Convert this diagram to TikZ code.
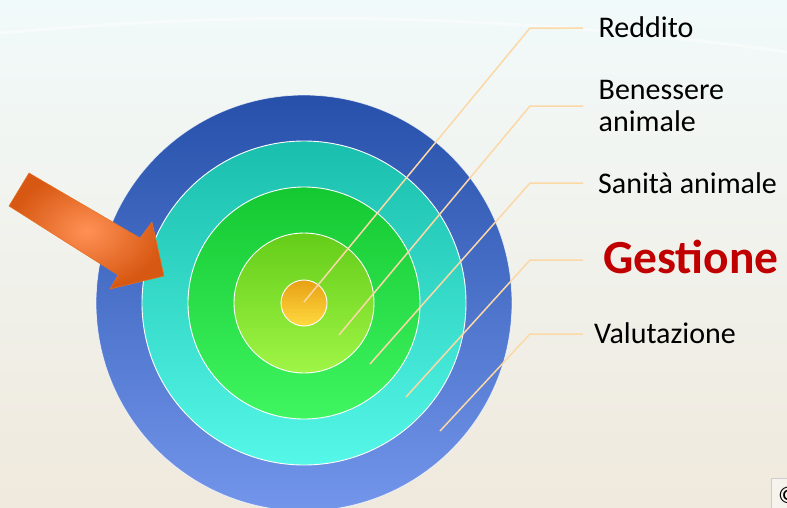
\documentclass[tikz,border=0pt]{standalone}
\usepackage{fontspec}
\setmainfont{Carlito}
\begin{document}
\begin{tikzpicture}[x=1pt,y=-1pt,
  lbl/.style={font=\fontsize{30}{32}\selectfont, inner sep=0pt, text=black},
  leader/.style={draw={rgb,255:red,252;green,216;blue,166}, line width=1.5pt},
  ringborder/.style={draw=white, line width=0.9pt}]
\useasboundingbox (0,0) rectangle (787,507);
\clip (0,0) rectangle (787,507);
% background
\shade[top color={rgb,255:red,241;green,250;blue,250}, bottom color={rgb,255:red,240;green,233;blue,221}] (0,0) rectangle (787,507);
\draw[white, opacity=0.45, line width=3pt] (0,33) .. controls (250,10) and (500,12) .. (787,52);

% concentric circles
\coordinate (C) at (304,303);
\shade[top color={rgb,255:red,38;green,80;blue,170}, bottom color={rgb,255:red,115;green,150;blue,235}] (C) circle (208);
\draw[white, opacity=0.7, line width=0.8pt] (C) circle (208);
\shade[top color={rgb,255:red,26;green,190;blue,172}, bottom color={rgb,255:red,85;green,248;blue,232}] (C) circle (162);
\draw[ringborder] (C) circle (162);
\shade[top color={rgb,255:red,20;green,200;blue,50}, bottom color={rgb,255:red,64;green,246;blue,96}] (C) circle (116);
\draw[ringborder] (C) circle (116);
\shade[top color={rgb,255:red,100;green,205;blue,25}, bottom color={rgb,255:red,160;green,245;blue,70}] (C) circle (70);
\draw[ringborder] (C) circle (70);
\shade[top color={rgb,255:red,232;green,160;blue,20}, bottom color={rgb,255:red,255;green,218;blue,64}] (C) circle (23);
\draw[ringborder] (C) circle (23);

% leader start points
\coordinate (p1) at (304,302);
\coordinate (p2) at (339,335);
\coordinate (p3) at (370,364);
\coordinate (p4) at (406,397);
\coordinate (p5) at (440,431);
% leader ends
\coordinate (e1) at (583,28);
\coordinate (e2) at (583,106);
\coordinate (e3) at (583,183);
\coordinate (e4) at (583,260);
\coordinate (e5) at (583,334);

\draw[leader] (p1) -- (530,28) -- (e1);
\draw[leader] (p2) -- (530,106) -- (e2);
\draw[leader] (p3) -- (530,183) -- (e3);
\draw[leader] (p4) -- (530,260) -- (e4);
\draw[leader] (p5) -- (530,334) -- (e5);

% labels
\node[lbl, anchor=base west] (reddito) at (598.5,37) {Reddito};
\node[lbl, anchor=west, align=left] (benessere) at (598.5,106) {Benessere\\animale};
\node[lbl, anchor=base west] (sanita) at (598,193) {Sanità animale};
\node[lbl, anchor=base west, font=\fontsize{47.5}{50}\selectfont\bfseries, text={rgb,255:red,192;green,0;blue,0}] (gestione) at (603,273) {Gestione};
\node[lbl, anchor=base west] (valutazione) at (594,343) {Valutazione};

% orange arrow
\shade[inner color={rgb,255:red,255;green,145;blue,85}, outer color={rgb,255:red,215;green,88;blue,18}]
  (29,173) -- (140,238) -- (152,222) -- (164,276) -- (110,289) -- (118,275) -- (9,206) -- cycle;
\draw[draw={rgb,255:red,235;green,110;blue,30}, line width=0.5pt]
  (29,173) -- (140,238) -- (152,222) -- (164,276) -- (110,289) -- (118,275) -- (9,206) -- cycle;

% partial box at bottom right (cut by the edge, as in the reference)
\draw[draw={rgb,255:red,205;green,205;blue,205}, fill={rgb,255:red,246;green,243;blue,236}, line width=0.8pt] (771,478) rectangle (820,520);
\node[inner sep=0pt, anchor=base west, font=\fontsize{24}{26}\selectfont] (corner) at (778,503) {©};
\end{tikzpicture}
\end{document}
